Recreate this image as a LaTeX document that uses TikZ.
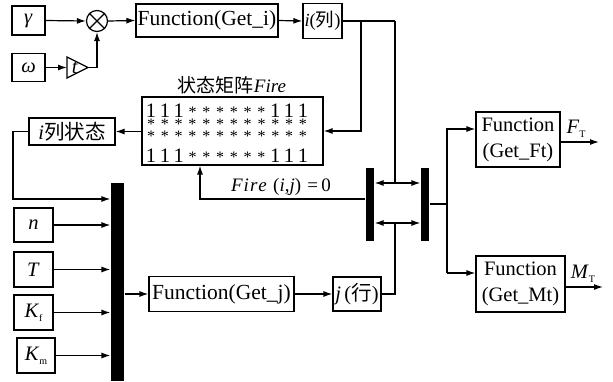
\documentclass[tikz,border=0pt]{standalone}
\usepackage{fontspec}
\setmainfont{Liberation Serif}
\newfontfamily\cjk{Noto Sans CJK SC}
\usetikzlibrary{arrows.meta}
\newcommand\sbs[1]{\raisebox{-0.45ex}{\fontsize{10}{10}\selectfont #1}}
\newcommand\mcell[1]{\makebox[13.8pt]{#1}}
\newcommand\st{{\fontsize{16}{16}\selectfont *}}
\newcommand\onerow{\mcell{1}\mcell{1}\mcell{1}\mcell{\st}\mcell{\st}\mcell{\st}\mcell{\st}\mcell{\st}\mcell{\st}\mcell{1}\mcell{1}\mcell{1}}
\newcommand\starrow{\mcell{\st}\mcell{\st}\mcell{\st}\mcell{\st}\mcell{\st}\mcell{\st}\mcell{\st}\mcell{\st}\mcell{\st}\mcell{\st}\mcell{\st}\mcell{\st}}
\begin{document}
\begin{tikzpicture}[x=1pt,y=-1pt,
  line width=1.2pt,
  every node/.style={font=\fontsize{20.5}{26}\selectfont},
  blk/.style={draw, rectangle, inner sep=0pt, line width=1.2pt},
  bar/.style={fill=black, draw=none, rectangle, inner sep=0pt},
  arr/.style={-{Latex[length=9pt,width=6pt]}},
  darr/.style={{Latex[length=9pt,width=6pt]}-{Latex[length=9pt,width=6pt]}}]
\useasboundingbox (0,0) rectangle (613,381);

% top row
\node[blk, minimum width=33pt, minimum height=29pt] (gam) at (28.5,20.5) {\textit{γ}};
\node[blk, minimum width=33pt, minimum height=28pt] (omg) at (28.5,67.5) {\textit{ω}};
\node[draw, circle, minimum size=21pt, inner sep=0pt] (mult) at (97,21) {};
\draw (mult.north west) -- (mult.south east) (mult.north east) -- (mult.south west);
\coordinate (gainL) at (67,67.5);
\coordinate (gainA) at (88,67.5);
\draw (67,57) -- (gainA) -- (67,78) -- cycle;
\node (gaint) at (75,67.5) {\textit{t}};
\node[blk, minimum width=142pt, minimum height=33pt, font=\fontsize{21.5}{26}\selectfont] (fi) at (207,20.5) {Function(Get\_i)};
\node[blk, minimum width=39pt, minimum height=35pt, font=\fontsize{18.5}{22}\selectfont] (icol) at (322.5,21) {\textit{i}({\cjk 列})};

\draw[arr] (gam.east) -- (mult.west);
\draw[arr] (omg.east) -- (gainL);
\draw[arr] (gainA) -| (mult.south);
\draw[arr] (mult.east) -- (fi.west);
\draw[arr] (fi.east) -- (icol.west);

% state matrix
\node[blk, minimum width=181pt, minimum height=68pt] (fire) at (232.5,131) {};
\node[font=\fontsize{19}{22}\selectfont] (firet) at (232,85) {{\cjk 状态矩阵}\textit{Fire}};
\node[anchor=base, inner sep=0pt] (mx) at (227,162) {\vbox{\offinterlineskip
  \hbox{\smash{\onerow}}\vskip12.5pt
  \hbox{\smash{\starrow}}\vskip12pt
  \hbox{\smash{\starrow}}\vskip20.5pt
  \hbox{\smash{\onerow}}}};

\node[blk, minimum width=86pt, minimum height=27pt] (ist) at (72,131.5) {\textit{i}{\cjk 列状态}};
\draw[arr] (fire.west |- ist.east) -- (ist.east);

% i line to matrix and to switch
\coordinate (iTR) at (395,21);
\coordinate (iBr) at (361,21);
\draw (icol.east) -- (iTR);
\draw[arr] (iBr) |- (fire.east);

% bars
\node[bar, minimum width=13pt, minimum height=198pt] (bar1) at (117.5,282) {};
\node[bar, minimum width=8pt, minimum height=73pt] (bar2) at (370,204.5) {};
\node[bar, minimum width=8pt, minimum height=73pt] (bar3) at (425,204.5) {};

% inputs
\node[blk, minimum width=39pt, minimum height=34pt] (n) at (33.5,225) {\textit{n}};
\node[blk, minimum width=39pt, minimum height=35pt] (T) at (33.5,269.5) {\textit{T}};
\node[blk, minimum width=39pt, minimum height=35pt] (Kf) at (33.5,312.5) {\textit{K}\sbs{f}};
\node[blk, minimum width=38pt, minimum height=35pt] (Km) at (36,355.5) {\textit{K}\sbs{m}};
\coordinate (istL) at (13,131.5);
\coordinate (istD) at (13,199);
\draw[arr] (ist.west) -- (istL) -- (istD) -- (istD -| bar1.west);
\draw[arr] (n.east) -- (n.east -| bar1.west);
\draw[arr] (T.east) -- (T.east -| bar1.west);
\draw[arr] (Kf.east) -- (Kf.east -| bar1.west);
\draw[arr] (Km.east) -- (Km.east -| bar1.west);

% Get_j
\node[blk, minimum width=145pt, minimum height=35pt, font=\fontsize{21.5}{26}\selectfont] (fj) at (221.5,294) {Function(Get\_j)};
\node[blk, minimum width=48pt, minimum height=34pt] (jrow) at (357,294) {\textit{j}\,({\cjk 行})};
\draw[arr] (bar1.east |- fj.west) -- (fj.west);
\draw[arr] (fj.east) -- (jrow.west);

% switch
\coordinate (dU) at (395,183);
\coordinate (dL) at (395,223);
\draw[darr] (bar2.east |- dU) -- (bar3.west |- dU);
\draw[darr] (bar2.east |- dL) -- (bar3.west |- dL);
\draw (iTR) -- (dU);
\draw (jrow.east) -| (dL);

% Fire reset line
\coordinate (fl) at (200,199);
\draw[arr] (bar2.west |- fl) -- (fl) -- (fire.south -| fl);
\node[font=\fontsize{19}{22}\selectfont] (firel) at (281,187) {\textit{F\kern1pt i\kern1pt r\kern1pt e}\,\,(\textit{i},\textit{j})\,\,=\,0};

% outputs
\node[blk, minimum width=84pt, minimum height=55pt, align=center] (ft) at (518,139.5) {Function\\(Get\_Ft)};
\node[blk, minimum width=89pt, minimum height=56pt, align=center] (mt) at (520.5,284) {Function\\(Get\_Mt)};
\coordinate (br) at (447,204);
\coordinate (brU) at (447,129);
\coordinate (brD) at (447,273);
\draw (bar3.east |- br) -- (br);
\draw[arr] (brD) -- (brU) -- (brU -| ft.west);
\draw[arr] (brD) -- (brD -| mt.west);
\coordinate (ftO) at (599,142);
\coordinate (mtO) at (603,287);
\draw[arr] (ft.east |- ftO) -- (ftO);
\draw[arr] (mt.east |- mtO) -- (mtO);
\node (ftl) at (576,129) {\textit{F}\sbs{T}};
\node (mtl) at (583,274) {\textit{M}\sbs{T}};
\end{tikzpicture}
\end{document}
